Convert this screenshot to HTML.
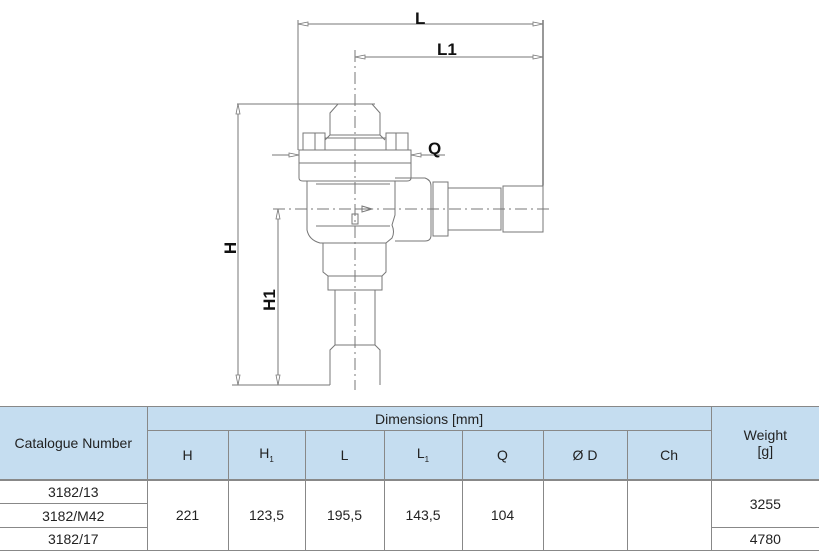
<!DOCTYPE html>
<html><head><meta charset="utf-8"><style>
body{margin:0;background:#fff;width:819px;height:551px;overflow:hidden;position:relative;font-family:"Liberation Sans",sans-serif}
svg{position:absolute;left:0;top:0}
table{position:absolute;left:0;top:406px;width:819px;table-layout:fixed;border-collapse:collapse;font-family:"Liberation Sans Narrow","Liberation Sans",sans-serif;font-size:14px;color:#222}
td{border:1px solid #888;text-align:center;padding:0}
</style></head><body>
<svg width="819" height="551" viewBox="0 0 819 551">
<g fill="none" stroke="#777" stroke-width="1">
<line x1="298" y1="20" x2="298" y2="150"/>
<line x1="543" y1="20" x2="543" y2="186" stroke="#333"/>
<line x1="298" y1="24" x2="543" y2="24"/>
<line x1="355" y1="57" x2="543" y2="57"/>
<line x1="237" y1="104" x2="375" y2="104"/>
<line x1="238" y1="104" x2="238" y2="385"/>
<line x1="232" y1="385" x2="330" y2="385"/>
<line x1="278" y1="209" x2="278" y2="385"/>
<line x1="272" y1="155" x2="299" y2="155"/>
<line x1="411" y1="155" x2="445" y2="155"/>
<line x1="355" y1="50" x2="355" y2="390" stroke-dasharray="12,4,2,4"/>
<line x1="273" y1="209" x2="552" y2="209" stroke-dasharray="12,4,2,4"/>
<path d="M330 135 V113 L338 104 H372 L380 113 V135"/>
<path d="M325 140 L330 135 H380 L385 140"/>
<rect x="303" y="133" width="22" height="17"/>
<rect x="386" y="133" width="22" height="17"/>
<line x1="315" y1="133" x2="315" y2="150"/><line x1="396" y1="133" x2="396" y2="150"/>
<rect x="325" y="138" width="61" height="12"/>
<rect x="299" y="150" width="112" height="13"/>
<path d="M299 163 V178 Q299 181 303 181 H407 Q411 181 411 178 V163"/>
<path d="M307 181 V230 Q309 240 320 243 H386 L392 238 Q395 232 392 225 L395 215 V181"/>
<line x1="316" y1="184" x2="390" y2="184"/>
<line x1="316" y1="226" x2="390" y2="226"/>
<path d="M395 178 H425 Q431 180 431 186 V235 Q431 241 425 241 H395"/>
<rect x="433" y="182" width="15" height="54"/>
<rect x="448" y="188" width="53" height="42"/>
<rect x="503" y="186" width="40" height="46"/>
<path d="M323 243 V272 L328 276 H382 L386 272 V243"/>
<rect x="328" y="276" width="54" height="14"/>
<rect x="335" y="290" width="40" height="55"/>
<path d="M330 385 V350 L335 345 H375 L380 350 V385"/>
<path d="M355 214 V209 H362 M362 206 L372 209 L362 212 Z M352 214 H358 V224 H352 Z"/>
</g>
<g fill="#fff" stroke="#777" stroke-width="0.8">
<path d="M298 24 L308 22 V26 Z"/><path d="M543 24 L533 22 V26 Z"/>
<path d="M355 57 L365 55 V59 Z"/><path d="M543 57 L533 55 V59 Z"/>
<path d="M238 104 L236 114 H240 Z"/><path d="M238 385 L236 375 H240 Z"/>
<path d="M278 209 L276 219 H280 Z"/><path d="M278 385 L276 375 H280 Z"/>
<path d="M299 155 L289 153 V157 Z"/><path d="M411 155 L421 153 V157 Z"/>
</g>
<g font-family="Liberation Sans" font-size="17" fill="#111" font-weight="bold">
<text x="415" y="24">L</text>
<text x="437" y="55">L1</text>
<text x="428" y="154">Q</text>
<text transform="translate(236,248) rotate(-90)" text-anchor="middle">H</text>
<text transform="translate(275,300) rotate(-90)" text-anchor="middle">H1</text>
</g>
</svg>
<table>
<colgroup><col style="width:147px"><col style="width:81px"><col style="width:77px"><col style="width:79px"><col style="width:78px"><col style="width:81px"><col style="width:84px"><col style="width:84px"><col style="width:108px"></colgroup>
<tr style="height:24px;background:#c5ddf0">
<td rowspan="2" style="border-left:none">Catalogue Number</td>
<td colspan="7">Dimensions [mm]</td>
<td rowspan="2" style="border-right:none">Weight<br>[g]</td></tr>
<tr style="height:49px;background:#c5ddf0">
<td>H</td><td>H<sub style="font-size:8px">1</sub></td><td>L</td><td>L<sub style="font-size:8px">1</sub></td><td>Q</td><td>Ø D</td><td>Ch</td></tr>
<tr style="height:24px;border-top:2px solid #888">
<td style="border-left:none">3182/13</td>
<td rowspan="3">221</td><td rowspan="3">123,5</td><td rowspan="3">195,5</td><td rowspan="3">143,5</td><td rowspan="3">104</td><td rowspan="3"></td><td rowspan="3"></td>
<td rowspan="2" style="border-right:none">3255</td></tr>
<tr style="height:24px"><td style="border-left:none">3182/M42</td></tr>
<tr style="height:23px"><td style="border-left:none">3182/17</td><td style="border-right:none">4780</td></tr>
</table>
</body></html>
